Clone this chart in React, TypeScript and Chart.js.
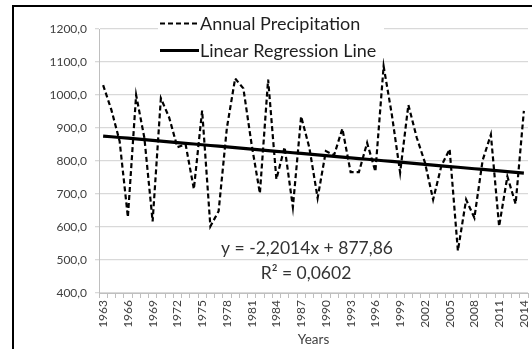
import { useEffect, useRef } from "react";
import { Chart, registerables } from "chart.js";

Chart.register(...registerables);

const years = [
  "1963", "1964", "1965", "1966", "1967", "1968", "1969", "1970", "1971", "1972",
  "1973", "1974", "1975", "1976", "1977", "1978", "1979", "1980", "1981", "1982",
  "1983", "1984", "1985", "1986", "1987", "1988", "1989", "1990", "1991", "1992",
  "1993", "1994", "1995", "1996", "1997", "1998", "1999", "2000", "2001", "2002",
  "2003", "2004", "2005", "2006", "2007", "2008", "2009", "2010", "2011", "2012",
  "2013", "2014",
];

const precipitation = [
  1030, 955, 860, 630, 1000, 870, 617, 990, 932, 842,
  850, 715, 953, 602, 648, 900, 1050, 1020, 850, 702,
  1047, 745, 842, 660, 935, 840, 688, 830, 818, 898,
  766, 766, 855, 768, 1087, 940, 765, 970, 872, 796,
  683, 785, 836, 528, 683, 628, 802, 880, 602, 753,
  670, 952,
];

// Trend line as printed on the chart: y = -2,2014x + 877,86 (x = 1 for the first year)
const regressionSlope = -2.2014;
const regressionIntercept = 877.86;
const equationLabel = "y = -2,2014x + 877,86";
const r2Label = "R\u00B2 = 0,0602";

const yMin = 400;
const yMax = 1200;
const yStep = 100;
const xLabelEvery = 3;
const xTitle = "Years";
const seriesNames = ["Annual Precipitation", "Linear Regression Line"];

const FONT = "Lato";

const overlayPlugin = {
  id: "overlay",
  afterDraw(chart: any) {
    const ctx = chart.ctx as CanvasRenderingContext2D;
    ctx.save();
    // legend box
    ctx.fillStyle = "#ffffff";
    ctx.fillRect(158, 12, 226, 46);
    const rows = [23.5, 50.5];
    chart.data.datasets.forEach((ds: any, i: number) => {
      const y = rows[i];
      ctx.beginPath();
      ctx.setLineDash(ds.borderDash || []);
      ctx.lineWidth = ds.borderWidth;
      ctx.strokeStyle = ds.borderColor;
      ctx.moveTo(160, y);
      ctx.lineTo(199, y);
      ctx.stroke();
      ctx.setLineDash([]);
      ctx.font = `18px ${FONT}`;
      ctx.fillStyle = "#1f1f1f";
      ctx.textAlign = "left";
      ctx.textBaseline = "middle";
      ctx.fillText(ds.label, 200, y + 1);
    });
    // equation
    ctx.font = `17.5px ${FONT}`;
    ctx.fillStyle = "#333333";
    ctx.textAlign = "center";
    ctx.textBaseline = "middle";
    ctx.fillText(equationLabel, 307, 248);
    ctx.fillText(r2Label, 306, 273);
    ctx.restore();
  },
};

export default function App() {
  const canvasRef = useRef<HTMLCanvasElement | null>(null);

  useEffect(() => {
    if (!canvasRef.current) return;
    const trend = years.map((_, i) => regressionIntercept + regressionSlope * (i + 1));
    const chart = new Chart(canvasRef.current, {
      type: "line",
      data: {
        labels: years,
        datasets: [
          {
            label: seriesNames[0],
            data: precipitation,
            borderColor: "#000000",
            borderWidth: 2.2,
            borderDash: [5, 3],
            pointRadius: 0,
            tension: 0,
            fill: false,
            order: 1,
          },
          {
            label: seriesNames[1],
            data: trend,
            borderColor: "#000000",
            borderWidth: 3.2,
            pointRadius: 0,
            tension: 0,
            fill: false,
            order: 0,
          },
        ],
      },
      options: {
        animation: false,
        responsive: false,
        maintainAspectRatio: false,
        devicePixelRatio: 1,
        layout: { padding: { left: 0, right: 4, top: 29, bottom: 0 } },
        plugins: {
          legend: { display: false },
          tooltip: { enabled: false },
        },
        scales: {
          x: {
            type: "category",
            offset: true,
            afterFit: (scale: any) => {
              scale.height = 63;
              scale.paddingLeft = 0;
              scale.paddingRight = 0;
            },
            grid: {
              display: true,
              offset: true,
              drawOnChartArea: false,
              drawTicks: true,
              tickLength: 5,
              color: "#bfbfbf",
            },
            border: { display: true, color: "#bfbfbf", width: 1 },
            ticks: {
              autoSkip: false,
              minRotation: 90,
              maxRotation: 90,
              padding: 2,
              color: "#404040",
              font: { family: FONT, size: 12 },
              callback: (_v: any, i: number) => (i % xLabelEvery === 0 ? years[i] : ""),
            },
            title: {
              display: true,
              text: xTitle,
              color: "#404040",
              font: { family: FONT, size: 13.5 },
              padding: { top: 0, bottom: 8 },
            },
          },
          y: {
            min: yMin,
            max: yMax,
            afterFit: (scale: any) => {
              scale.width = 99;
            },
            grid: {
              color: "#d9d9d9",
              lineWidth: 1.3,
              drawTicks: true,
              tickLength: 4,
            },
            border: { display: true, color: "#bfbfbf", width: 1 },
            ticks: {
              stepSize: yStep,
              padding: 8,
              color: "#404040",
              font: { family: FONT, size: 12 },
              callback: (v: any) => Number(v).toFixed(1).replace(".", ","),
            },
          },
        },
      },
      plugins: [overlayPlugin],
    });
    return () => chart.destroy();
  }, []);

  return (
    <div style={{ position: "fixed", left: 0, top: 0, width: 532, height: 356, background: "#ffffff", overflow: "hidden" }}>
      <div
        style={{
          position: "absolute",
          left: 12,
          top: 5,
          width: 530,
          height: 342,
          borderLeft: "2px solid #000",
          borderTop: "2px solid #000",
        }}
      />
      <canvas
        ref={canvasRef}
        width={532}
        height={356}
        style={{ position: "absolute", left: 0, top: 0, width: 532, height: 356 }}
      />
    </div>
  );
}
